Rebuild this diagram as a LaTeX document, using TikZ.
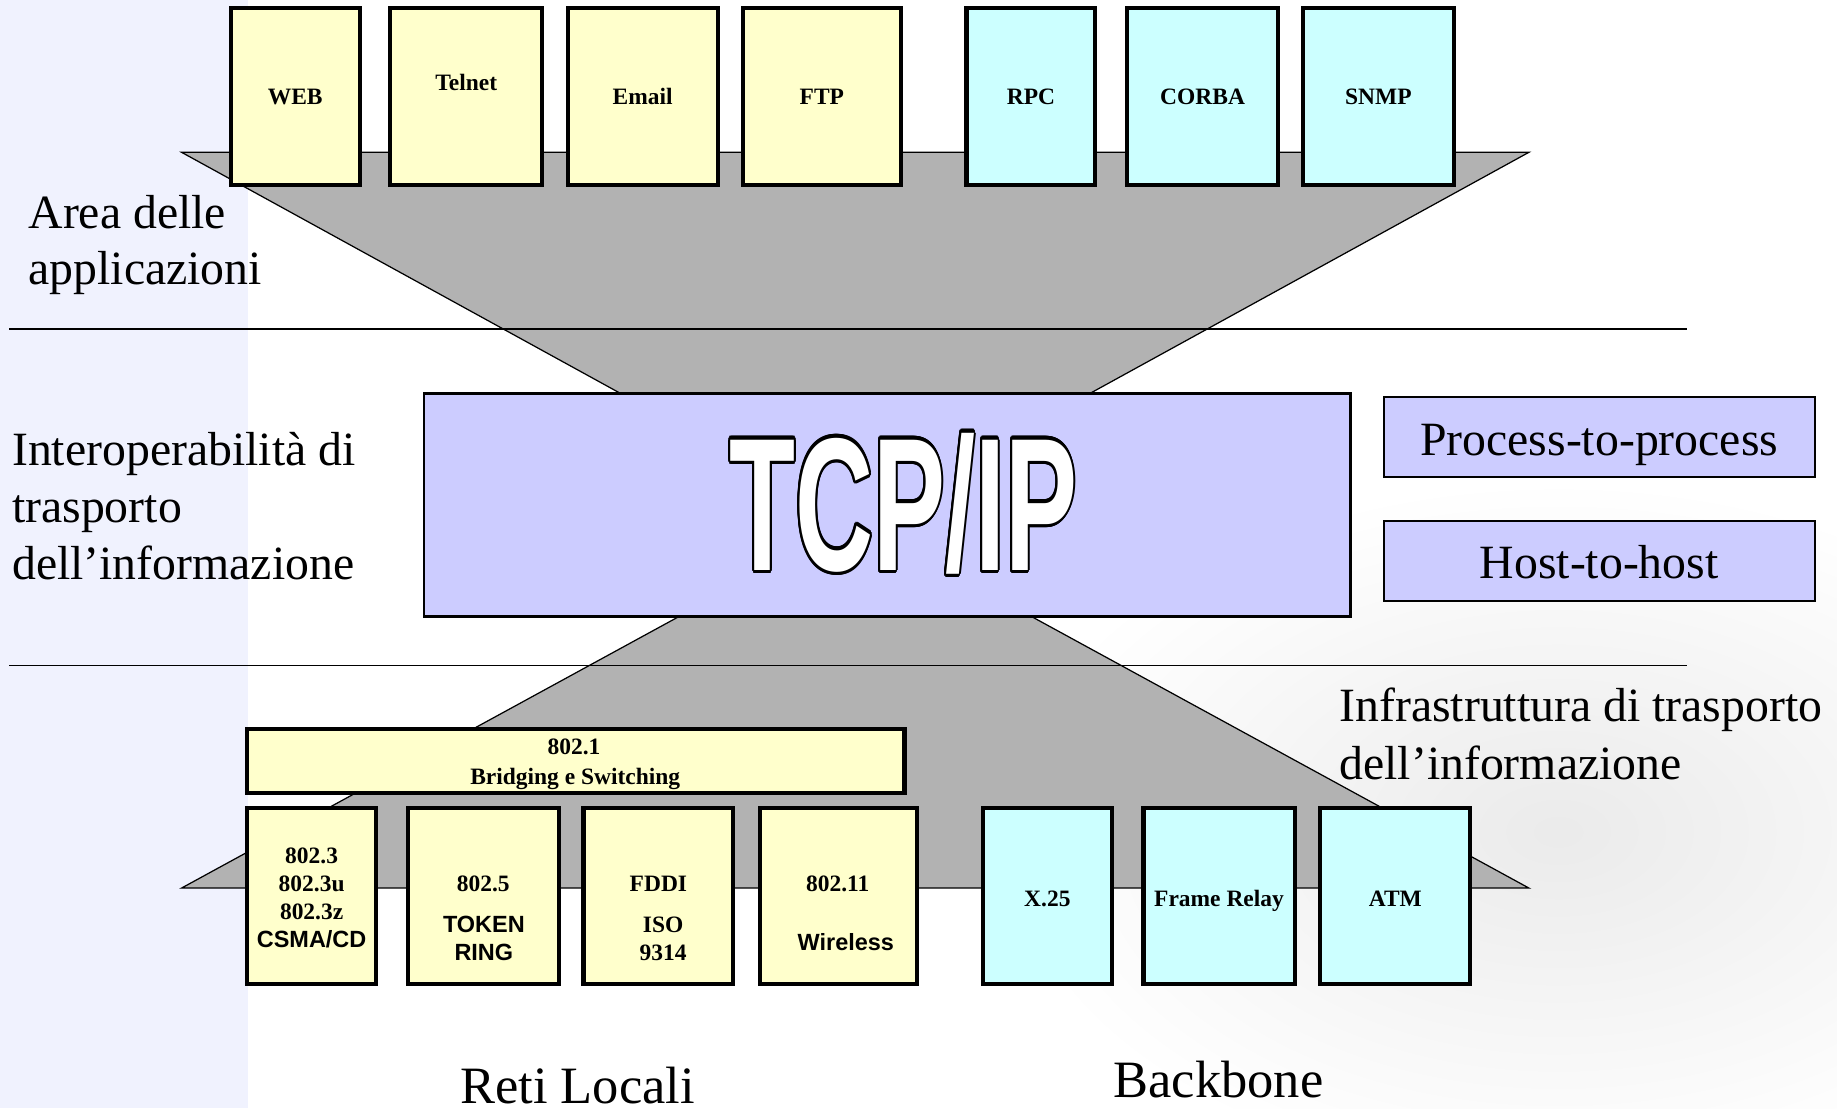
\documentclass[tikz,border=0pt]{standalone}
\usepackage{fontspec}
\setmainfont{Liberation Serif}
\setsansfont{Liberation Sans}
\usepackage[copies]{contour}
\usetikzlibrary{positioning}

\definecolor{appyellow}{HTML}{FFFFCC}
\definecolor{netcyan}{HTML}{CCFFFF}
\definecolor{tcplilac}{HTML}{CCCCFF}
\definecolor{funnelgray}{HTML}{B2B2B2}
\definecolor{stripblue}{HTML}{F0F2FE}
\contourlength{1.6pt}

\tikzset{
  box/.style={draw=black, line width=2pt, inner sep=0pt},
  layerbox/.style={draw=black, line width=1pt, fill=tcplilac, inner sep=0pt},
  funnel/.style={draw=black, line width=0.6pt, fill=funnelgray},
  partition/.style={line width=0.9pt},
  lbl/.style={font=\fontsize{11.4}{13.6}\selectfont\bfseries, inner sep=0pt, text height=7.6pt, text depth=0pt},
  sflbl/.style={lbl, font=\fontsize{11.4}{13.6}\selectfont\sffamily\bfseries},
  bigtxt/.style={font=\fontsize{23.2}{27.8}\selectfont, inner sep=0pt, anchor=base west},
  areatxt/.style={font=\fontsize{25.5}{30}\selectfont, inner sep=0pt, anchor=base}
}

\begin{document}
\begin{tikzpicture}[x=0.02cm, y=-0.02cm]
\useasboundingbox (0,0) rectangle (1568,946);

%BACKGROUND
\fill [stripblue] (0,0) rectangle (212,946);
\shade [inner color=black!8, outer color=white] (1330,710) ellipse (480 and 300);

%FUNNELS
\draw [funnel] (155,130) -- (1305,130) -- (930,336) -- (530,336) -- cycle;
\draw [funnel] (580,526) -- (880,526) -- (1305,758) -- (155,758) -- cycle;

%Horizontal Partitions
\draw [partition] (8,281) -- (1440,281);
\draw [partition] (8,568) -- (1440,568);

%APPLICATIONS
\foreach \x/\w/\n/\t/\ly/\c in {252/110/web/WEB/82.5/appyellow,
  398/130/telnet/Telnet/70.5/appyellow,
  548.5/128/email/Email/82.5/appyellow,
  701.5/135/ftp/FTP/82.5/appyellow,
  880/110/rpc/RPC/82.5/netcyan,
  1026.5/129/corba/CORBA/82.5/netcyan,
  1176.5/129/snmp/SNMP/82.5/netcyan}
{
\node [box, fill=\c, minimum width=\w*0.02cm, minimum height=151*0.02cm] (\n) at (\x,82.5) {};
\node [lbl] (\n-txt) at (\x,\ly) {\t};
}

%TCP/IP
\node [layerbox, line width=1.3pt, minimum width=791*0.02cm, minimum height=190*0.02cm] (tcp) at (757.5,431) {};
\node [inner sep=0pt] (tcplogo) at (771,431)
  {\scalebox{0.57}[1]{\fontsize{92}{92}\sffamily\bfseries\selectfont\color{white}\contour{black}{TCP/IP}}};

\node [layerbox, minimum width=368*0.02cm, minimum height=68*0.02cm] (proc) at (1365,373) {};
\node [bigtxt, anchor=base] (proc-txt) at (1365,389) {Process-to-process};
\node [layerbox, minimum width=368*0.02cm, minimum height=68*0.02cm] (host) at (1365,479) {};
\node [bigtxt, anchor=base] (host-txt) at (1365,494) {Host-to-host};

%NETWORKS
\node [box, fill=appyellow, minimum width=561*0.02cm, minimum height=55*0.02cm] (bridge) at (491.5,649.5) {};
\node [lbl] (bridge-a) at (490,637) {802.1};
\node [lbl] (bridge-b) at (491,663) {Bridging e Switching};

\foreach \x/\w/\n/\c in {266/110/ethernet/appyellow,
  412.5/129/tokenring/appyellow,
  562/128/fddi/appyellow,
  716/134/wlan/appyellow,
  894/110/xtf/netcyan,
  1040.5/129/frelay/netcyan,
  1191/128/atm/netcyan}
{
\node [box, fill=\c, minimum width=\w*0.02cm, minimum height=150*0.02cm] (\n) at (\x,765) {};
}

% serif labels
\foreach \x/\y/\n/\t in {266/730/eth-a/802.3, 266/754/eth-b/802.3u, 266/778/eth-c/802.3z,
  412.5/754/tr-a/802.5, 562/754/fddi-a/FDDI, 566/789/fddi-b/ISO, 566/813/fddi-c/9314,
  715/754/wlan-a/802.11, 894/767/xtf-a/X.25, 1040.5/767/frelay-a/Frame Relay, 1191/767/atm-a/ATM}
\node [lbl] (\n) at (\x,\y) {\t};
% sans labels
\foreach \x/\y/\n/\t in {266/802/eth-d/{CSMA/CD}, 413/789/tr-b/TOKEN, 413/813/tr-c/RING, 722/805/wlan-b/Wireless}
\node [sflbl] (\n) at (\x,\y) {\t};

%Labels
\node [bigtxt] (area-a) at (24,195) {Area delle};
\node [bigtxt] (area-b) at (24,243) {applicazioni};
\node [bigtxt] (inter-a) at (10,397) {Interoperabilità di};
\node [bigtxt] (inter-b) at (10,446) {trasporto};
\node [bigtxt] (inter-c) at (10,495) {dell’informazione};
\node [bigtxt] (infra-a) at (1143,616) {Infrastruttura di trasporto};
\node [bigtxt] (infra-b) at (1143,665) {dell’informazione};
\node [areatxt] (reti) at (493,942) {Reti Locali};
\node [areatxt] (backbone) at (1040,937) {Backbone};

\end{tikzpicture}
\end{document}
